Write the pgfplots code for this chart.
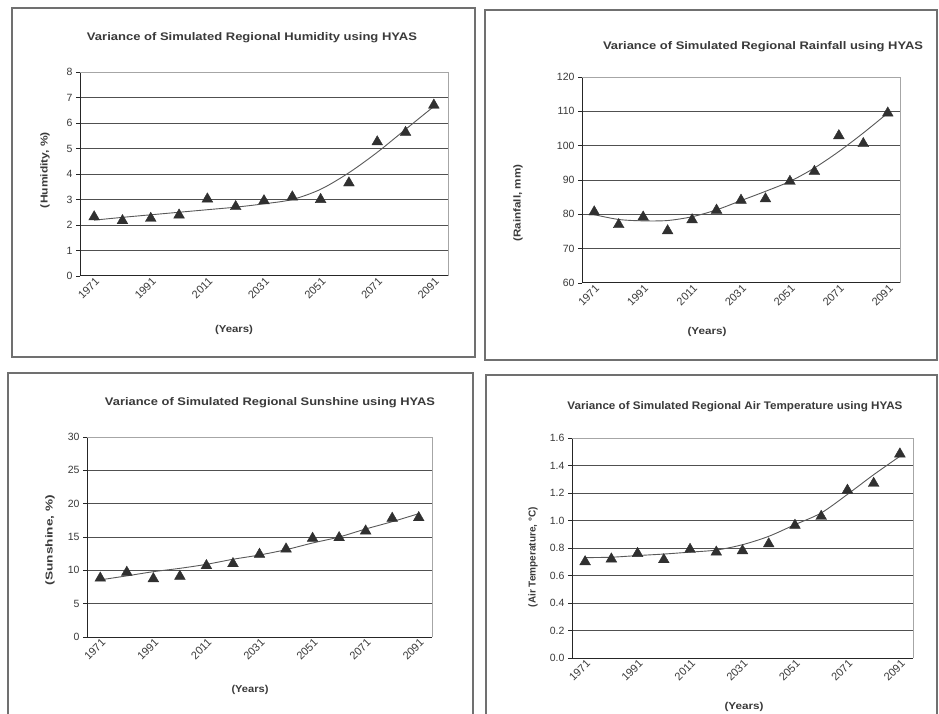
\documentclass[border=0pt]{standalone}
\usepackage{fontspec}
\setmainfont{Liberation Sans}
\usepackage{pgfplots}
\pgfplotsset{compat=1.18}
\definecolor{gridc}{HTML}{505050}
\definecolor{markc}{HTML}{303030}
\definecolor{boxc}{HTML}{707070}
\definecolor{txt}{HTML}{3A3A3A}
\pgfplotsset{
  xlchart/.style={
    scale only axis,
    anchor=south west,
    xmin=-0.5, xmax=12.5,
    xtick=\empty,
    minor xtick={-0.5,0.5,...,12.5},
    minor tick length=4pt,
    extra x ticks={0,2,4,6,8,10,12},
    extra x tick labels={1971,1991,2011,2031,2051,2071,2091},
    extra x tick style={major tick length=0pt,grid=none,
      xticklabel style={rotate=45,anchor=east,font=\fontsize{11}{12}\selectfont,text=txt,yshift=-5pt,xshift=3pt}},
    major tick length=4pt,
    tick align=outside,
    axis x line*=bottom,
    axis y line*=left,
    x axis line style={-,draw=black!85,line width=1pt},
    y axis line style={-,draw=black!85,line width=1pt},
    every tick/.style={black!85,line width=0.8pt},
    ymajorgrids,
    major grid style={gridc,line width=1pt},
    yticklabel style={font=\fontsize{10.5}{11}\selectfont,text=txt},
    /pgf/number format/assume math mode=true,
    clip=false,
    after end axis/.code={
      \draw[black!35,line width=0.8pt] (rel axis cs:0,1) -- (rel axis cs:1,1) -- (rel axis cs:1,0);
    },
  },
  trend/.style={no marks,smooth,line width=0.9pt,draw=black!65},
  pts/.style={only marks,mark=triangle*,mark size=6.2pt,mark options={fill=markc,draw=markc}},
}
\newcommand{\ttl}[2]{\resizebox{#1}{\height}{\bfseries\fontsize{11}{13}\selectfont #2}}
\newcommand{\lbl}[2]{\resizebox{#1}{\height}{\bfseries\fontsize{10}{12}\selectfont #2}}
\begin{document}
\begin{tikzpicture}
\useasboundingbox (0pt,0pt) rectangle (939pt,713pt);
\fill[white] (0pt,0pt) rectangle (939pt,713pt);
% panel frames
\draw[boxc,line width=1.2pt] (12pt,356pt) rectangle (475pt,705pt);
\draw[boxc,line width=1.2pt] (485pt,353pt) rectangle (937pt,703pt);
\draw[boxc,line width=1.2pt] (8pt,-10pt) rectangle (473pt,340pt);
\draw[boxc,line width=1.2pt] (486pt,-10pt) rectangle (937pt,338pt);

% ---- Humidity ----
\begin{axis}[xlchart, at={(80pt,437pt)}, width=368pt, height=204pt,
  ymin=0, ymax=8, ytick={0,1,...,8}]
\addplot[trend] coordinates {(0,2.19) (1,2.3) (2,2.4) (3,2.5) (4,2.6) (5,2.7) (6,2.83) (7,3.0) (8,3.4) (9,4.05) (10,4.85) (11,5.75) (12,6.65)};
\addplot[pts] coordinates {(0,2.32) (1,2.17) (2,2.26) (3,2.39) (4,3.02) (5,2.72) (6,2.95) (7,3.1) (8,3.0) (9,3.65) (10,5.26) (11,5.63) (12,6.7)};
\end{axis}
\node[text=txt] at (252pt,675pt) {\ttl{330pt}{Variance of Simulated Regional Humidity using HYAS}};
\node[text=txt,rotate=90] at (45pt,543pt) {\lbl{76pt}{(Humidity, \%)}};
\node[text=txt] at (234pt,383pt) {\lbl{38pt}{(Years)}};

% ---- Rainfall ----
\begin{axis}[xlchart, at={(582pt,430pt)}, width=318pt, height=206pt,
  ymin=60, ymax=120, ytick={60,70,...,120}]
\addplot[trend] coordinates {(0,79.9) (1,78.5) (2,78.1) (3,78.2) (4,79.3) (5,81.3) (6,84) (7,86.7) (8,89.6) (9,93.5) (10,98.3) (11,103.7) (12,109.5)};
\addplot[pts] coordinates {(0,80.7) (1,77.0) (2,79.2) (3,75.2) (4,78.4) (5,81.2) (6,84.1) (7,84.5) (8,89.6) (9,92.5) (10,102.9) (11,100.6) (12,109.5)};
\end{axis}
\node[text=txt] at (763pt,666pt) {\ttl{320pt}{Variance of Simulated Regional Rainfall using HYAS}};
\node[text=txt,rotate=90] at (518pt,510pt) {\lbl{77pt}{(Rainfall, mm)}};
\node[text=txt] at (707pt,381pt) {\lbl{39pt}{(Years)}};

% ---- Sunshine ----
\begin{axis}[xlchart, at={(87pt,76pt)}, width=345pt, height=200pt,
  ymin=0, ymax=30, ytick={0,5,...,30}]
\addplot[trend] coordinates {(0,8.57) (1,9.17) (2,9.8) (3,10.3) (4,10.9) (5,11.66) (6,12.3) (7,13.1) (8,14.1) (9,15.0) (10,16.2) (11,17.3) (12,18.5)};
\addplot[pts] coordinates {(0,8.83) (1,9.7) (2,8.74) (3,9.1) (4,10.7) (5,11.0) (6,12.4) (7,13.2) (8,14.8) (9,14.9) (10,15.9) (11,17.8) (12,17.9)};
\end{axis}
\node[text=txt] at (270pt,310pt) {\ttl{330pt}{Variance of Simulated Regional Sunshine using HYAS}};
\node[text=txt,rotate=90] at (50pt,173pt) {\lbl{90pt}{(Sunshine, \%)}};
\node[text=txt] at (250pt,23pt) {\lbl{37pt}{(Years)}};

% ---- Air temperature ----
\begin{axis}[xlchart, at={(572pt,55pt)}, width=341pt, height=220pt,
  ymin=0, ymax=1.6, ytick={0,0.2,...,1.6},
  yticklabel style={/pgf/number format/.cd,fixed,fixed zerofill,precision=1}]
\addplot[trend] coordinates {(0,0.73) (1,0.733) (2,0.745) (3,0.756) (4,0.77) (5,0.785) (6,0.824) (7,0.885) (8,0.97) (9,1.055) (10,1.19) (11,1.333) (12,1.467)};
\addplot[pts] coordinates {(0,0.70) (1,0.72) (2,0.76) (3,0.715) (4,0.79) (5,0.77) (6,0.78) (7,0.83) (8,0.965) (9,1.03) (10,1.22) (11,1.27) (12,1.484)};
\end{axis}
\node[text=txt] at (735pt,306pt) {\ttl{335pt}{Variance of Simulated Regional Air Temperature using HYAS}};
\node[text=txt,rotate=90] at (533pt,156pt) {\lbl{100pt}{(Air Temperature, °C)}};
\node[text=txt] at (744pt,6pt) {\lbl{39pt}{(Years)}};
\end{tikzpicture}
\end{document}
